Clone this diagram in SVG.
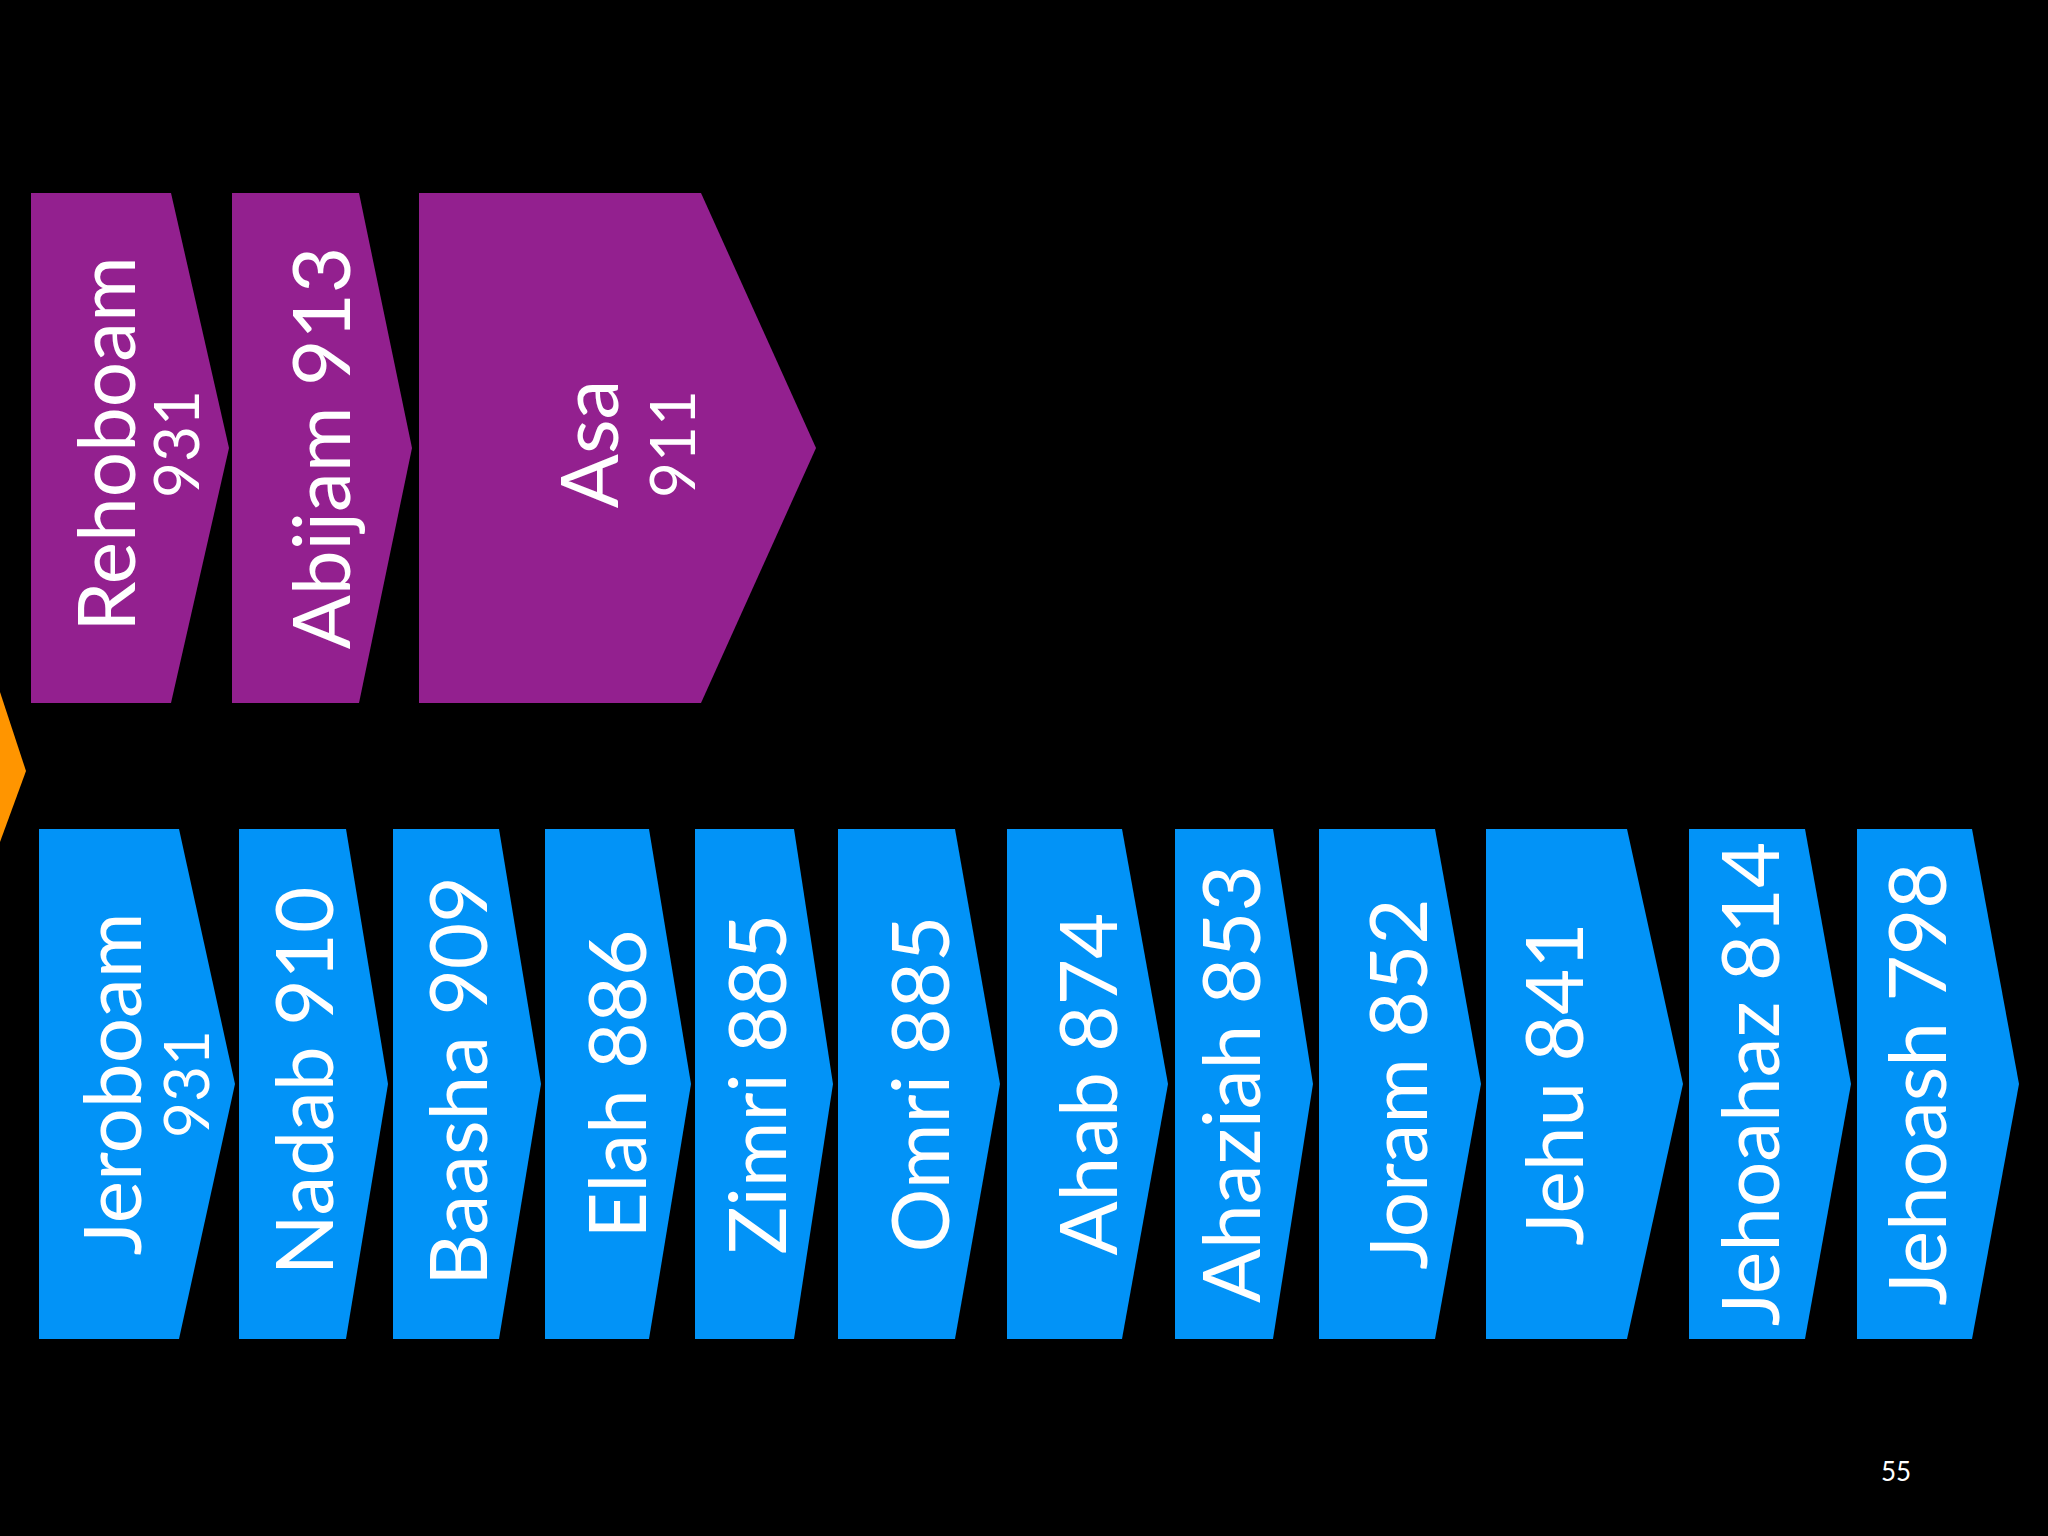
<svg xmlns="http://www.w3.org/2000/svg" width="2048" height="1536" viewBox="0 0 2048 1536">
<style>
.p{fill:#93208f}.b{fill:#0293f7}.o{fill:#ff9500}
text{fill:#fff;font-family:"Lato","Open Sans",sans-serif;text-anchor:middle}
.n{font-size:80px}.s{font-size:62px}
</style>
<rect width="2048" height="1536" fill="#000"/>
<g id="orange"><polygon class="o" points="0,692 26,771 0,842"/></g>
<g id="rehoboam"><polygon class="p" points="31,193 171,193 229,448 171,703 31,703"/>
<text class="n" transform="translate(135,444) rotate(-90)">Rehoboam</text>
<text class="s" transform="translate(199,444) rotate(-90)">931</text></g>
<g id="abijam"><polygon class="p" points="232,193 359,193 412,448 359,703 232,703"/>
<text class="n" transform="translate(350,448) rotate(-90)">Abijam 913</text></g>
<g id="asa"><polygon class="p" points="419,193 701,193 816,448 701,703 419,703"/>
<text class="n" transform="translate(618,444) rotate(-90)">Asa</text>
<text class="s" transform="translate(695,444) rotate(-90)">911</text></g>
<g id="jeroboam"><polygon class="b" points="39,829 179,829 235,1084 179,1339 39,1339"/>
<text class="n" transform="translate(141,1084) rotate(-90)">Jeroboam</text>
<text class="s" transform="translate(209,1084) rotate(-90)">931</text></g>
<g id="nadab"><polygon class="b" points="239,829 346,829 388,1084 346,1339 239,1339"/>
<text class="n" transform="translate(333,1081) rotate(-90)">Nadab 910</text></g>
<g id="baasha"><polygon class="b" points="393,829 499,829 541,1084 499,1339 393,1339"/>
<text class="n" transform="translate(487,1081) rotate(-90)">Baasha 909</text></g>
<g id="elah"><polygon class="b" points="545,829 649,829 691,1084 649,1339 545,1339"/>
<text class="n" transform="translate(646,1084) rotate(-90)">Elah 886</text></g>
<g id="zimri"><polygon class="b" points="695,829 794,829 833,1084 794,1339 695,1339"/>
<text class="n" transform="translate(786,1084) rotate(-90)">Zimri 885</text></g>
<g id="omri"><polygon class="b" points="838,829 955,829 1000,1084 955,1339 838,1339"/>
<text class="n" transform="translate(949,1084) rotate(-90)">Omri 885</text></g>
<g id="ahab"><polygon class="b" points="1007,829 1122,829 1168,1084 1122,1339 1007,1339"/>
<text class="n" transform="translate(1117,1084) rotate(-90)">Ahab 874</text></g>
<g id="ahaziah"><polygon class="b" points="1175,829 1273,829 1313,1084 1273,1339 1175,1339"/>
<text class="n" transform="translate(1260,1084) rotate(-90)">Ahaziah 853</text></g>
<g id="joram"><polygon class="b" points="1319,829 1435,829 1481,1084 1435,1339 1319,1339"/>
<text class="n" transform="translate(1427,1084) rotate(-90)">Joram 852</text></g>
<g id="jehu"><polygon class="b" points="1486,829 1627,829 1683,1084 1627,1339 1486,1339"/>
<text class="n" transform="translate(1583,1084) rotate(-90)">Jehu 841</text></g>
<g id="jehoahaz"><polygon class="b" points="1689,829 1805,829 1851,1084 1805,1339 1689,1339"/>
<text class="n" transform="translate(1779,1084) rotate(-90)">Jehoahaz 814</text></g>
<g id="jehoash"><polygon class="b" points="1857,829 1972,829 2019,1084 1972,1339 1857,1339"/>
<text class="n" transform="translate(1946,1084) rotate(-90)">Jehoash 798</text></g>
<g id="connectors"/>
<text x="1896" y="1481" style="font-size:26px">55</text>
</svg>
